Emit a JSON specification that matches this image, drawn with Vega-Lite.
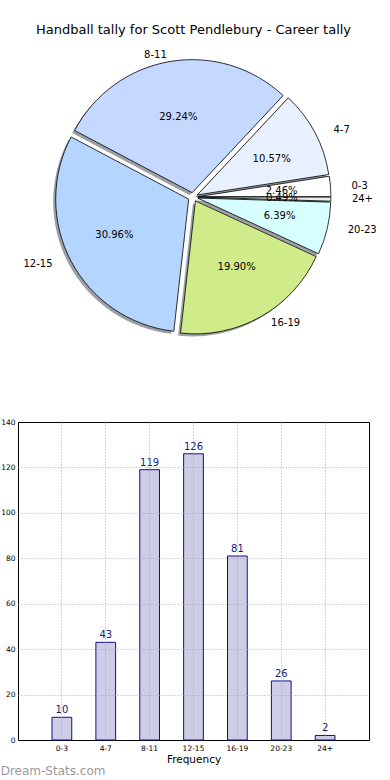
{
  "$schema": "https://vega.github.io/schema/vega-lite/v6.json",
  "padding": {"left": 0, "top": 24, "right": 0, "bottom": 0},
  "spacing": 32,
  "background": "white",
  "config": {"font": "DejaVu Sans", "view": {"stroke": null}},
  "datasets": {
    "tally": [
      {"bucket": "0-3", "count": 10},
      {"bucket": "4-7", "count": 43},
      {"bucket": "8-11", "count": 119},
      {"bucket": "12-15", "count": 126},
      {"bucket": "16-19", "count": 81},
      {"bucket": "20-23", "count": 26},
      {"bucket": "24+", "count": 2}
    ]
  },
  "vconcat": [
    {
      "width": 351,
      "height": 340,
      "title": {"text": "Handball tally for Scott Pendlebury - Career tally", "fontSize": 13, "fontWeight": "normal", "font": "DejaVu Sans", "color": "black", "anchor": "middle", "frame": "group", "offset": 8},
      "data": {"name": "tally"},
      "transform": [
        {"window": [{"op": "sum", "field": "count", "as": "s1"}], "frame": [null, 0]},
        {"joinaggregate": [{"op": "sum", "field": "count", "as": "total"}]},
        {"calculate": "(datum.s1 - datum.count) / datum.total", "as": "a0"},
        {"calculate": "datum.s1 / datum.total", "as": "a1"},
        {"calculate": "datum.count / datum.total", "as": "share"},
        {"calculate": "PI * (datum.a0 + datum.a1)", "as": "mid"},
        {"calculate": "0.035 * cos(datum.mid)", "as": "ex"},
        {"calculate": "0.035 * sin(datum.mid)", "as": "ey"},
        {"calculate": "datum.ex + 0.6 * cos(datum.mid)", "as": "px"},
        {"calculate": "datum.ey + 0.6 * sin(datum.mid)", "as": "py"},
        {"calculate": "datum.ex + 1.1 * cos(datum.mid)", "as": "lx"},
        {"calculate": "datum.ey + 1.1 * sin(datum.mid)", "as": "ly"}
      ],
      "layer": [
        {
          "mark": {"type": "arc", "radius": 133, "fill": "#3a3f47", "fillOpacity": 0.5, "xOffset": -2.5, "yOffset": 2.5},
          "encoding": {
            "x": {"field": "ex", "type": "quantitative", "scale": {"domain": [-1.25, 1.257], "nice": false, "zero": false}, "axis": null},
            "y": {"field": "ey", "type": "quantitative", "scale": {"domain": [-1.48, 1.197], "nice": false, "zero": false}, "axis": null},
            "theta": {"field": "a0", "type": "quantitative", "stack": null, "scale": {"domain": [0, 1], "range": [1.5707963, -4.712389]}},
            "theta2": {"field": "a1"}
          }
        },
        {
          "mark": {"type": "arc", "radius": 133, "stroke": "black", "strokeWidth": 0.8},
          "encoding": {
            "x": {"field": "ex", "type": "quantitative"},
            "y": {"field": "ey", "type": "quantitative"},
            "theta": {"field": "a0", "type": "quantitative", "stack": null},
            "theta2": {"field": "a1"},
            "color": {"field": "bucket", "type": "nominal", "legend": null,
              "scale": {"domain": ["0-3", "4-7", "8-11", "12-15", "16-19", "20-23", "24+"],
                        "range": ["#ffffff", "#e9f0ff", "#c5d8ff", "#b3d5ff", "#d0eb8a", "#d8ffff", "#ececec"]}}
          }
        },
        {
          "mark": {"type": "text", "fontSize": 10, "color": "black", "align": "center", "baseline": "middle"},
          "encoding": {
            "x": {"field": "px", "type": "quantitative"},
            "y": {"field": "py", "type": "quantitative"},
            "text": {"field": "share", "type": "quantitative", "format": ".2%"}
          }
        },
        {
          "transform": [{"filter": "cos(datum.mid) < 0"}],
          "mark": {"type": "text", "fontSize": 10, "color": "black", "align": "right", "baseline": "middle"},
          "encoding": {
            "x": {"field": "lx", "type": "quantitative"},
            "y": {"field": "ly", "type": "quantitative"},
            "text": {"field": "bucket", "type": "nominal"}
          }
        },
        {
          "transform": [{"filter": "cos(datum.mid) >= 0"}],
          "mark": {"type": "text", "fontSize": 10, "color": "black", "align": "left", "baseline": "middle"},
          "encoding": {
            "x": {"field": "lx", "type": "quantitative"},
            "y": {"field": "ly", "type": "quantitative"},
            "text": {"field": "bucket", "type": "nominal"}
          }
        }
      ]
    },
    {
      "width": 351,
      "height": 318,
      "view": {"stroke": "black", "strokeWidth": 1},
      "title": {"text": "Dream-Stats.com", "orient": "bottom", "anchor": "start", "frame": "bounds", "fontSize": 12, "fontWeight": "normal", "color": "#9a9a9a", "offset": 1},
      "data": {"name": "tally"},
      "encoding": {
        "x": {
          "field": "bucket", "type": "nominal", "sort": null,
          "scale": {"paddingInner": 0.55, "paddingOuter": 0.775},
          "axis": {"title": "Frequency", "titleFontSize": 10.5, "titleFontWeight": "normal", "titleColor": "black", "titlePadding": 3,
                   "labelFontSize": 7.5, "labelAngle": 0, "labelColor": "black", "labelPadding": 4, "ticks": false, "domain": false,
                   "grid": true, "gridDash": [1, 2], "gridColor": "#a8a8a8", "bandPosition": 0.5, "zindex": 1}
        }
      },
      "layer": [
        {
          "mark": {"type": "bar", "fill": "#cdcde6", "stroke": "#10108a", "strokeWidth": 1},
          "encoding": {
            "y": {"field": "count", "type": "quantitative", "scale": {"domain": [0, 140], "nice": false},
                  "axis": {"title": null, "values": [0, 20, 40, 60, 80, 100, 120, 140], "labelFontSize": 7.5, "labelColor": "black",
                           "labelPadding": 3, "ticks": false, "domain": false, "grid": true, "gridDash": [1, 2], "gridColor": "#a8a8a8",
                           "gridOpacity": {"condition": {"test": "datum.value == 0 || datum.value == 140", "value": 0}, "value": 1}, "zindex": 1}}
          }
        },
        {
          "mark": {"type": "text", "dy": -4, "baseline": "alphabetic", "fontSize": 10, "color": "#141a80"},
          "encoding": {
            "y": {"field": "count", "type": "quantitative"},
            "text": {"field": "count", "type": "quantitative"}
          }
        }
      ]
    }
  ]
}
